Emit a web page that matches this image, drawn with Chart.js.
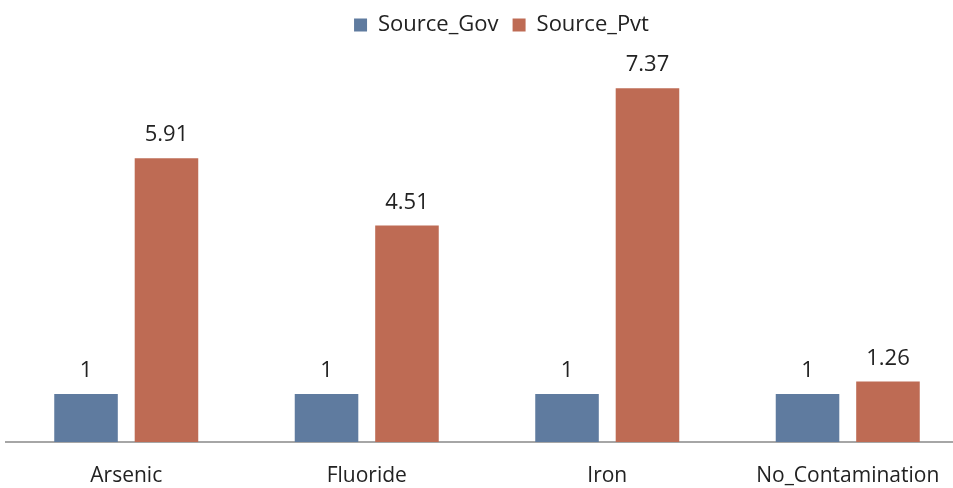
<!DOCTYPE html>
<html>
<head>
<meta charset="utf-8">
<script src="https://cdn.jsdelivr.net/npm/chart.js@4/dist/chart.umd.min.js"></script>
<style>
  html, body { margin: 0; padding: 0; background: #ffffff; overflow: hidden; }
  #wrap { width: 997px; height: 488px; }
</style>
</head>
<body>
<div id="wrap"><canvas id="c" width="997" height="488"></canvas></div>
<script>
// Contamination categories and the ratio values for each water source
const categories = ["Arsenic", "Fluoride", "Iron", "No_Contamination"];
const sourceGov = [1, 1, 1, 1];
const sourcePvt = [5.91, 4.51, 7.37, 1.26];
const seriesNames = ["Source_Gov", "Source_Pvt"];

const FONT = "'Open Sans', 'Noto Sans', sans-serif";

// Writes each bar's value just above it
const valueLabels = {
  id: "valueLabels",
  afterDatasetsDraw(chart) {
    const ctx = chart.ctx;
    ctx.save();
    ctx.font = "22px " + FONT;
    ctx.fillStyle = "#222222";
    ctx.textAlign = "center";
    ctx.textBaseline = "alphabetic";
    chart.data.datasets.forEach((ds, i) => {
      chart.getDatasetMeta(i).data.forEach((bar, j) => {
        ctx.fillText(String(ds.data[j]), bar.x, bar.y - 17);
      });
    });
    ctx.restore();
  }
};

new Chart(document.getElementById("c"), {
  type: "bar",
  data: {
    labels: categories,
    datasets: [
      { label: seriesNames[0], data: sourceGov, backgroundColor: "#5F7B9F", yAxisID: "y" },
      { label: seriesNames[1], data: sourcePvt, backgroundColor: "#BE6B54", yAxisID: "y" }
    ]
  },
  options: {
    responsive: false,
    animation: false,
    layout: { padding: { left: 6, right: 0, top: 0, bottom: 0 } },
    datasets: { bar: { categoryPercentage: 0.669, barPercentage: 0.79 } },
    plugins: {
      legend: {
        position: "top",
        labels: {
          font: { family: FONT, size: 22 },
          color: "#222222",
          boxWidth: 13,
          boxHeight: 13,
          padding: 14
        }
      },
      tooltip: { enabled: false }
    },
    scales: {
      x: {
        grid: { display: false },
        border: { display: true, color: "#A6A6A6", width: 2 },
        ticks: { font: { family: FONT, size: 21 }, color: "#222222", padding: 13, maxRotation: 0 },
        afterFit(s) { s.height = 46; }
      },
      y: {
        display: false,
        min: 0,
        max: 8.25
      },
      spacer: {
        position: "right",
        display: true,
        grid: { display: false },
        border: { display: false },
        ticks: { display: false },
        afterFit(s) { s.width = 29; }
      }
    }
  },
  plugins: [valueLabels]
});
</script>
</body>
</html>
